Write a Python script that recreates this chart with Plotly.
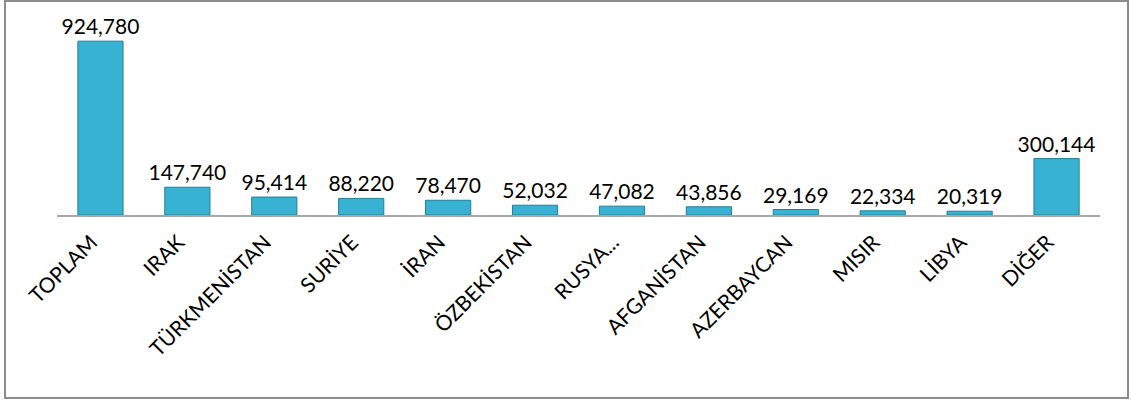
import plotly.graph_objects as go

# Category labels (Turkish) and values
countries = [
    "TOPLAM", "IRAK", "TÜRKMENİSTAN", "SURİYE", "İRAN", "ÖZBEKİSTAN",
    "RUSYA...", "AFGANİSTAN", "AZERBAYCAN", "MISIR", "LİBYA", "DİĞER",
]
values = [924780, 147740, 95414, 88220, 78470, 52032, 47082, 43856, 29169, 22334, 20319, 300144]

W, H = 1131, 401
ml, mr, mt, mb = 57, 31, 27, 186
pw, ph = W - ml - mr, H - mt - mb

fig = go.Figure()
fig.add_trace(
    go.Bar(
        x=countries,
        y=values,
        width=0.52,
        marker=dict(color="#38B2D3", line=dict(color="#237F99", width=1)),
        text=[f"{v:,}" for v in values],
        textposition="outside",
        textfont=dict(size=21, color="#000000", family="Lato, Open Sans, sans-serif"),
        cliponaxis=False,
        hoverinfo="x+y",
    )
)

# grey outer frame round the whole chart
fig.add_shape(
    type="rect", xref="paper", yref="paper",
    x0=(5 - ml) / pw, x1=(1128 - ml) / pw,
    y0=(mt + ph - 398) / ph, y1=(mt + ph - 1) / ph,
    line=dict(color="#8C8C8C", width=2),
)

fig.update_layout(
    width=W,
    height=H,
    margin=dict(l=ml, r=mr, t=mt, b=mb, autoexpand=False),
    paper_bgcolor="white",
    plot_bgcolor="white",
    showlegend=False,
    uniformtext=dict(minsize=21, mode="show"),
    font=dict(family="Lato, Open Sans, sans-serif", color="#000000"),
    xaxis=dict(
        tickangle=-45,
        tickfont=dict(size=21),
        ticklabelstandoff=5,
        ticklabelshift=-9,
        showline=True,
        linecolor="#A6A6A6",
        linewidth=1.5,
        ticks="",
        showgrid=False,
        automargin=False,
        range=[-0.5, 11.5],
    ),
    yaxis=dict(
        range=[0, 1000000],
        visible=False,
        showgrid=False,
    ),
)

fig.write_html(
    "out.html",
    config={"displayModeBar": False},
    post_script="document.body.style.margin='0';",
)
